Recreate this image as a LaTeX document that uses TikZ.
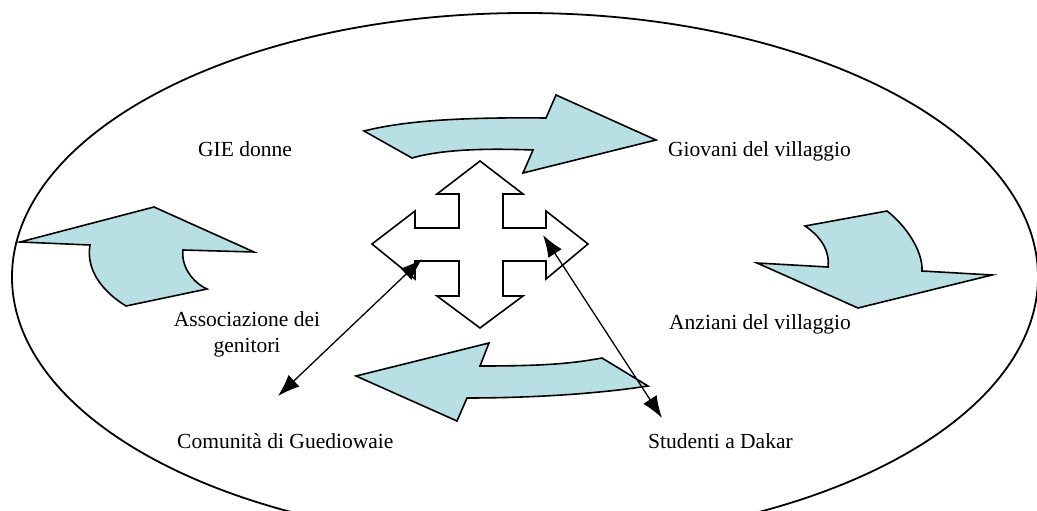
\documentclass[tikz,border=0pt]{standalone}
\usepackage{fontspec}
\setmainfont{Liberation Serif}
\usetikzlibrary{arrows.meta}
\definecolor{flowfill}{RGB}{184,223,227}
\tikzset{
  flow/.style={draw=black, line width=1.6pt, fill=flowfill, line join=miter},
  cross/.style={draw=black, line width=1.6pt, fill=white, line join=miter},
  label/.style={font=\fontsize{21.5}{26}\selectfont, inner sep=0pt},
  link/.style={line width=1.3pt, {Latex[length=22pt,width=16pt]}-{Latex[length=22pt,width=16pt]}}
}
\begin{document}
\begin{tikzpicture}[x=1pt,y=-1pt]
\useasboundingbox (0,0) rectangle (1037,511);
\begin{scope}
\clip (0,0) rectangle (1037,511);
% outer community ellipse
\draw[line width=1.8pt] (525,277) ellipse [x radius=513, y radius=264];
\end{scope}

% curved flow arrows
\path[flow] (364,131) .. controls (400,122) and (450,117) .. (546,118)
  -- (556,95) -- (656,140) -- (523,173) -- (533,150)
  .. controls (480,148) and (440,150) .. (412,158) -- cycle;
\path[flow] (20,242) -- (154,207) -- (254,252) -- (183,250)
  .. controls (181,266) and (192,282) .. (207,289) -- (126,306)
  .. controls (100,290) and (86,268) .. (90,245) -- cycle;
\path[flow] (805,226) -- (887,211) .. controls (905,225) and (923,250) .. (922,271)
  -- (992,275) -- (858,308) -- (757,263) -- (828,267)
  .. controls (830,250) and (820,236) .. (805,226) -- cycle;
\path[flow] (356,376) -- (489,343) -- (480,366)
  .. controls (540,366) and (570,364) .. (602,358) -- (648,386)
  .. controls (590,395) and (520,398) .. (467,398) -- (457,421) -- cycle;

% four-way arrow in the middle
\path[cross] (480,161) -- (523,194) -- (503,194) -- (503,228) -- (546,228)
  -- (546,211) -- (588,244) -- (546,279) -- (546,261) -- (503,261)
  -- (503,296) -- (523,296) -- (480,328) -- (437,296) -- (459,296)
  -- (459,261) -- (415,261) -- (415,279) -- (372,244) -- (415,211)
  -- (415,228) -- (459,228) -- (459,194) -- (437,194) -- cycle;

% actors
\node[label, anchor=base west] (gie) at (198,157) {GIE donne};
\node[label, anchor=base west] (giovani) at (668,157) {Giovani del villaggio};
\node[label, align=center, anchor=base] (assoc) at (247,352) {Associazione dei\\genitori};
\node[label, anchor=base west] (anziani) at (669,329) {Anziani del villaggio};
\node[label, anchor=base west] (comunita) at (177,448) {Comunità di Guediowaie};
\node[label, anchor=base west] (studenti) at (648,448) {Studenti a Dakar};

% links between the centre and the outside groups
\coordinate (crossW) at (422,259);
\coordinate (crossE) at (543,235);
\coordinate (endW) at (278,396);
\coordinate (endE) at (662,418);
\draw[link] (endW) -- (crossW);
\draw[link] (crossE) -- (endE);
\end{tikzpicture}
\end{document}
